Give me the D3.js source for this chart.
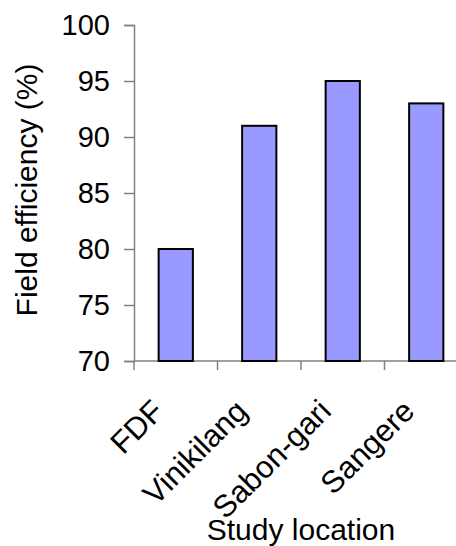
<!DOCTYPE html>
<html>
<head>
<meta charset="utf-8">
<script src="https://cdn.jsdelivr.net/npm/d3@7"></script>
<style>
  body { margin: 0; background: #fff; }
  text { font-family: "Liberation Sans", Arial, sans-serif; fill: #000; }
</style>
</head>
<body>
<svg id="chart" width="456" height="546"></svg>
<script>
const categories = ["FDF", "Vinikilang", "Sabon-gari", "Sangere"];
const efficiency = [80, 91, 95, 93];
const yTicks = [70, 75, 80, 85, 90, 95, 100];
const yTitle = "Field efficiency (%)";
const xTitle = "Study location";

const svg = d3.select("#chart");
const plotLeft = 134, plotRight = 468, plotTop = 25, plotBottom = 361;

const x = d3.scaleBand().domain(categories).range([plotLeft, plotRight])
  .paddingInner(0.59).paddingOuter(0.295);
const y = d3.scaleLinear().domain([70, 100]).range([plotBottom, plotTop]);

const axisColor = "#808080";

// Y axis
const yAxis = d3.axisLeft(y).tickValues(yTicks).tickSize(10).tickPadding(14);
const gy = svg.append("g").attr("transform", `translate(${plotLeft},0)`).call(yAxis);
gy.select(".domain").attr("stroke", axisColor).attr("stroke-width", 1.5);
gy.selectAll(".tick line").attr("stroke", axisColor).attr("stroke-width", 1.5);
gy.selectAll(".tick text").attr("font-size", 29).attr("font-family", "Liberation Sans, Arial, sans-serif").attr("fill", "#000");

// X axis line
svg.append("line").attr("x1", plotLeft).attr("x2", plotRight).attr("y1", plotBottom).attr("y2", plotBottom)
  .attr("stroke", axisColor).attr("stroke-width", 1.5);

// X ticks at band boundaries
const step = x.step();
const boundaries = categories.map(c => x(c) + x.bandwidth() / 2 - step / 2);
svg.selectAll(".xtick").data(boundaries).join("line")
  .attr("x1", d => d).attr("x2", d => d).attr("y1", plotBottom).attr("y2", plotBottom + 9)
  .attr("stroke", axisColor).attr("stroke-width", 1.5);

// Bars
svg.selectAll(".bar").data(categories).join("rect")
  .attr("x", c => x(c))
  .attr("width", x.bandwidth())
  .attr("y", (c, i) => y(efficiency[i]))
  .attr("height", (c, i) => y(70) - y(efficiency[i]))
  .attr("fill", "#9999FF").attr("stroke", "#000").attr("stroke-width", 2);

// X category labels
svg.selectAll(".xlabel").data(categories).join("text")
  .attr("transform", c => `translate(${x(c) + x.bandwidth() / 2 - 10},${plotBottom + 52}) rotate(-45)`)
  .attr("text-anchor", "end")
  .attr("font-size", 31)
  .text(c => c);

// Titles
svg.append("text").attr("x", (plotLeft + plotRight) / 2).attr("y", 540)
  .attr("text-anchor", "middle").attr("font-size", 30).text(xTitle);
svg.append("text").attr("transform", `translate(37,190) rotate(-90)`)
  .attr("text-anchor", "middle").attr("font-size", 30).text(yTitle);
</script>
</body>
</html>
